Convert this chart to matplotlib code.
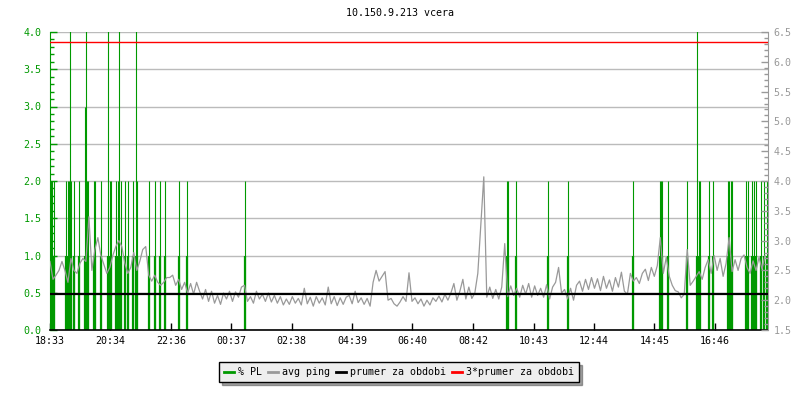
import numpy as np
import matplotlib
matplotlib.use("Agg")
import matplotlib.pyplot as plt
from matplotlib.lines import Line2D
from matplotlib.ticker import MultipleLocator

plt.rcParams['font.family'] = ['DejaVu Sans Mono']
plt.rcParams['font.size'] = 7.2

# --- data -------------------------------------------------------------
title = "10.150.9.213 vcera"
tick_labels = ["18:33", "20:34", "22:36", "00:37", "02:38", "04:39",
               "06:40", "08:42", "10:43", "12:44", "14:45", "16:46"]

# minutes after 18:33, packet loss value (left axis)
pl_min = [2, 5, 8, 33, 36, 39, 41, 42, 48, 59, 71, 72, 74, 77, 89, 91, 102,
          117, 120, 123, 133, 136, 139, 142, 150, 157, 167, 173, 175, 198,
          211, 220, 230, 259, 275, 391, 917, 919, 935, 998, 1038, 1169,
          1223, 1226, 1228, 1239, 1278, 1298, 1301, 1303, 1322, 1329, 1359,
          1362, 1365, 1368, 1396, 1400, 1408, 1411, 1416, 1425, 1431, 1438]
pl_val = [2.0, 2.0, 2.0, 2.0, 2.0, 2.0, 4.5, 2.0, 2.0, 2.0, 3.0, 4.5, 2.0,
          2.0, 2.0, 2.0, 2.0, 4.5, 2.0, 2.0, 2.0, 2.0, 4.5, 2.0, 2.0, 2.0,
          2.0, 4.5, 2.0, 2.0, 2.0, 2.0, 2.0, 2.0, 2.0, 2.0, 2.0, 2.0, 2.0,
          2.0, 2.0, 2.0, 2.0, 2.0, 2.0, 2.0, 2.0, 4.5, 2.0, 2.0, 2.0, 2.0,
          2.0, 2.0, 2.0, 2.0, 2.0, 2.0, 2.0, 2.0, 2.0, 2.0, 2.0, 2.0]

# avg ping (right axis), one value every 6 minutes from 18:33
ping_step = 6
ping = [
    2.65, 2.35, 2.42, 2.50, 2.65, 2.50, 2.30, 2.70, 2.50, 2.45,
    2.62, 2.70, 2.65, 3.40, 2.50, 2.85, 3.05, 2.75, 2.60, 2.45,
    2.55, 2.75, 2.90, 3.00, 2.90, 2.62, 2.45, 2.55, 2.80, 2.50,
    2.65, 2.85, 2.90, 2.42, 2.32, 2.42, 2.30, 2.25, 2.30, 2.38,
    2.38, 2.42, 2.25, 2.35, 2.18, 2.30, 2.12, 2.28, 2.10, 2.30,
    2.15, 2.02, 2.18, 1.98, 2.15, 1.95, 2.08, 1.93, 2.12, 2.02,
    2.15, 1.98, 2.14, 2.05, 2.22, 2.25, 1.98, 2.06, 1.95, 2.15,
    2.02, 2.10, 1.98, 2.12, 1.97, 2.08, 1.95, 2.06, 1.92, 2.02,
    1.93, 2.06, 1.95, 2.03, 1.92, 2.20, 1.94, 2.05, 1.90, 2.06,
    1.95, 2.04, 1.92, 2.22, 1.94, 2.06, 1.91, 2.04, 1.93, 2.05,
    2.08, 1.94, 2.15, 1.96, 2.04, 1.93, 2.03, 1.90, 2.30, 2.50,
    2.32, 2.40, 2.48, 2.00, 2.03, 1.94, 1.90, 1.97, 2.06, 1.98,
    2.46, 1.98, 2.04, 1.94, 2.02, 1.90, 2.00, 1.92, 2.04, 1.98,
    2.07, 1.97, 2.10, 2.00, 2.12, 2.28, 2.00, 2.15, 2.35, 2.02,
    2.22, 2.03, 2.12, 2.45, 3.25, 4.07, 2.05, 2.22, 2.03, 2.18,
    2.02, 2.22, 2.95, 2.06, 2.24, 2.08, 2.20, 2.05, 2.25, 2.10,
    2.28, 2.05, 2.24, 2.08, 2.20, 2.05, 2.26, 2.02, 2.22, 2.30,
    2.55, 2.12, 2.18, 2.02, 2.20, 2.00, 2.25, 2.32, 2.15, 2.35,
    2.18, 2.38, 2.20, 2.36, 2.16, 2.40, 2.20, 2.34, 2.15, 2.38,
    2.22, 2.47, 2.15, 2.10, 2.45, 2.32, 2.38, 2.28, 2.45, 2.52,
    2.33, 2.55, 2.40, 2.58, 3.05, 2.45, 2.72, 2.40, 2.25, 2.16,
    2.14, 2.04, 2.10, 2.85, 2.25, 2.32, 2.40, 2.48, 2.35, 2.55,
    2.68, 2.45, 2.75, 2.50, 2.70, 2.40, 2.62, 3.05, 2.48, 2.68,
    2.50, 2.70, 2.76, 2.55, 2.45, 2.66, 2.50, 2.72, 2.52, 2.75,
]
avg_ping = 2.11

GREEN = '#009900'
GRAY = '#999999'

# --- figure -----------------------------------------------------------
fig = plt.figure(figsize=(8, 4), dpi=100)
ax = fig.add_axes([50 / 800, 70 / 400, 718 / 800, 298 / 400])
ax2 = ax.twinx()

def to_min(s):
    h, m = map(int, s.split(':'))
    return ((h * 60 + m) - (18 * 60 + 33)) % 1440

xt = [to_min(s) for s in tick_labels]

pl_min = np.array(pl_min)
pl_val = np.array(pl_val)
ax.vlines(pl_min, 0, pl_val, color=GREEN, lw=0.8, zorder=2)
ax.vlines(pl_min, 0, np.minimum(pl_val, 1.0), color=GREEN, lw=1.6, zorder=2)

t = np.arange(len(ping)) * ping_step
ax2.plot(t, ping, color=GRAY, lw=0.9, zorder=3)
ax2.axhline(avg_ping, color='black', lw=1.6, zorder=4)
ax2.axhline(3 * avg_ping, color='#ff0000', lw=1.0, zorder=4)

ax.set_xlim(0, 1440)
ax.set_ylim(0, 4)
ax2.set_ylim(1.5, 6.5)

ax.yaxis.set_major_locator(MultipleLocator(0.5))
ax.yaxis.set_minor_locator(MultipleLocator(0.1))
ax2.yaxis.set_major_locator(MultipleLocator(0.5))
ax2.yaxis.set_minor_locator(MultipleLocator(0.1))
ax.set_yticklabels([f"{v:.1f}" for v in ax.get_yticks()])
ax2.set_yticklabels([f"{v:.1f}" for v in ax2.get_yticks()])

ax.set_xticks(xt)
ax.set_xticklabels(tick_labels)
ax.grid(axis='y', color='#bbbbbb', lw=1.0, zorder=0)
ax.set_axisbelow(True)

ax.tick_params(axis='y', which='major', direction='in', length=5, width=1,
               colors=GREEN, labelsize=7.2, pad=6)
ax.tick_params(axis='y', which='minor', direction='in', length=3, width=1,
               colors=GREEN)
ax.tick_params(axis='x', direction='in', length=5, width=1, colors='black',
               labelsize=7.2, pad=4)
ax2.tick_params(axis='y', which='major', direction='in', length=5, width=1,
                colors=GRAY, labelsize=7.2, pad=4)
ax2.tick_params(axis='y', which='minor', direction='in', length=3, width=1,
                colors=GRAY)

for a in (ax, ax2):
    a.spines['top'].set_visible(False)
    a.set_facecolor('none')
ax.spines['left'].set_color(GREEN)
ax.spines['bottom'].set_color('black')
ax.spines['bottom'].set_linewidth(1.2)
ax2.spines['right'].set_color(GRAY)
ax2.spines['left'].set_visible(False)
ax2.spines['bottom'].set_visible(False)
ax.spines['right'].set_visible(False)

fig.text(0.5, 1 - 13 / 400, title, ha='center', va='center', fontsize=7.2)

handles = [Line2D([], [], color=GREEN, lw=2),
           Line2D([], [], color=GRAY, lw=2),
           Line2D([], [], color='black', lw=2),
           Line2D([], [], color='#ff0000', lw=2)]
names = ["% PL", "avg ping", "prumer za obdobi", "3*prumer za obdobi"]
leg = fig.legend(handles, names, loc='center', bbox_to_anchor=(0.499, 0.07),
                 ncol=4, fancybox=False, shadow=True, framealpha=1,
                 facecolor='#eeeeee', edgecolor='black', fontsize=7.2,
                 handlelength=1.0, handletextpad=0.4, columnspacing=0.6,
                 borderpad=0.5)
leg.get_frame().set_linewidth(1.0)

fig.savefig("out.png", dpi=100)
